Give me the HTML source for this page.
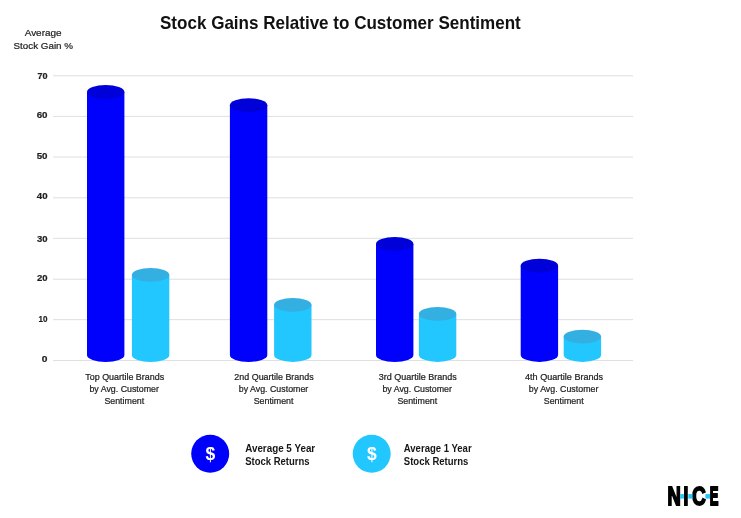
<!DOCTYPE html>
<html lang="en"><head><meta charset="utf-8"><title>Stock Gains Relative to Customer Sentiment</title>
<style>
html,body{margin:0;padding:0;background:#fff;}
body{width:741px;height:518px;overflow:hidden;font-family:"Liberation Sans",sans-serif;}
svg{display:block;}
text{font-family:"Liberation Sans",sans-serif;fill:#1e1e1e;}
.b{font-weight:bold;}
.c{text-anchor:middle;}
.m{stroke:#1e1e1e;stroke-width:0.22px;}
.mb{stroke:#1e1e1e;stroke-width:0.2px;}
</style></head><body>
<svg width="741" height="518" viewBox="0 0 741 518">
<rect width="741" height="518" fill="#fff"/>
<text class="b" x="160" y="28.7" font-size="18.2" style="fill:#111" textLength="360.8" lengthAdjust="spacingAndGlyphs">Stock Gains Relative to Customer Sentiment</text>
<text x="24.7" y="35.9" font-size="9.7" class="m" textLength="36.9" lengthAdjust="spacingAndGlyphs">Average</text>
<text x="13.5" y="48.7" font-size="9.7" class="m" textLength="59.5" lengthAdjust="spacingAndGlyphs">Stock Gain %</text>
<rect x="53" y="75.27" width="580" height="1" fill="#dfdfdf"/>
<text class="b mb" x="37.45" y="78.90" font-size="8.8" textLength="10.1" lengthAdjust="spacingAndGlyphs">70</text>
<rect x="53" y="115.90" width="580" height="1" fill="#dfdfdf"/>
<text class="b mb" x="36.65" y="118.00" font-size="8.8" textLength="10.9" lengthAdjust="spacingAndGlyphs">60</text>
<rect x="53" y="156.50" width="580" height="1" fill="#dfdfdf"/>
<text class="b mb" x="36.65" y="159.00" font-size="8.8" textLength="10.9" lengthAdjust="spacingAndGlyphs">50</text>
<rect x="53" y="197.30" width="580" height="1" fill="#dfdfdf"/>
<text class="b mb" x="36.75" y="198.90" font-size="8.8" textLength="10.8" lengthAdjust="spacingAndGlyphs">40</text>
<rect x="53" y="237.80" width="580" height="1" fill="#dfdfdf"/>
<text class="b mb" x="36.95" y="242.00" font-size="8.8" textLength="10.6" lengthAdjust="spacingAndGlyphs">30</text>
<rect x="53" y="278.70" width="580" height="1" fill="#dfdfdf"/>
<text class="b mb" x="36.95" y="280.90" font-size="8.8" textLength="10.6" lengthAdjust="spacingAndGlyphs">20</text>
<rect x="53" y="319.15" width="580" height="1" fill="#dfdfdf"/>
<text class="b mb" x="38.55" y="321.90" font-size="8.8" textLength="9.0" lengthAdjust="spacingAndGlyphs">10</text>
<rect x="53" y="360.00" width="580" height="1" fill="#dfdfdf"/>
<text class="b mb" x="41.85" y="361.90" font-size="8.8" textLength="5.7" lengthAdjust="spacingAndGlyphs">0</text>
<path d="M87.00 92.00V355.0A18.7 6.9 0 0 0 124.40 355.0V92.00Z" fill="#0000fd"/><ellipse cx="105.70" cy="92.00" rx="18.7" ry="6.9" fill="#0000d8"/>
<path d="M131.90 274.90V355.0A18.7 6.9 0 0 0 169.30 355.0V274.90Z" fill="#22c7ff"/><ellipse cx="150.60" cy="274.90" rx="18.7" ry="6.9" fill="#34afe2"/>
<path d="M229.90 105.20V355.0A18.7 6.9 0 0 0 267.30 355.0V105.20Z" fill="#0000fd"/><ellipse cx="248.60" cy="105.20" rx="18.7" ry="6.9" fill="#0000d8"/>
<path d="M274.10 304.80V355.0A18.7 6.9 0 0 0 311.50 355.0V304.80Z" fill="#22c7ff"/><ellipse cx="292.80" cy="304.80" rx="18.7" ry="6.9" fill="#34afe2"/>
<path d="M376.00 243.90V355.0A18.7 6.9 0 0 0 413.40 355.0V243.90Z" fill="#0000fd"/><ellipse cx="394.70" cy="243.90" rx="18.7" ry="6.9" fill="#0000d8"/>
<path d="M418.90 313.90V355.0A18.7 6.9 0 0 0 456.30 355.0V313.90Z" fill="#22c7ff"/><ellipse cx="437.60" cy="313.90" rx="18.7" ry="6.9" fill="#34afe2"/>
<path d="M520.70 265.70V355.0A18.7 6.9 0 0 0 558.10 355.0V265.70Z" fill="#0000fd"/><ellipse cx="539.40" cy="265.70" rx="18.7" ry="6.9" fill="#0000d8"/>
<path d="M563.70 336.60V355.0A18.7 6.9 0 0 0 601.10 355.0V336.60Z" fill="#22c7ff"/><ellipse cx="582.40" cy="336.60" rx="18.7" ry="6.9" fill="#34afe2"/>
<text x="85.30" y="379.8" font-size="8.6" class="m" textLength="78.8" lengthAdjust="spacingAndGlyphs">Top Quartile Brands</text><text x="89.45" y="391.9" font-size="8.6" class="m" textLength="69.5" lengthAdjust="spacingAndGlyphs">by Avg. Customer</text><text x="104.40" y="403.9" font-size="8.6" class="m" textLength="39.8" lengthAdjust="spacingAndGlyphs">Sentiment</text>
<text x="234.35" y="379.8" font-size="8.6" class="m" textLength="79.3" lengthAdjust="spacingAndGlyphs">2nd Quartile Brands</text><text x="238.75" y="391.9" font-size="8.6" class="m" textLength="69.5" lengthAdjust="spacingAndGlyphs">by Avg. Customer</text><text x="253.70" y="403.9" font-size="8.6" class="m" textLength="39.8" lengthAdjust="spacingAndGlyphs">Sentiment</text>
<text x="378.70" y="379.8" font-size="8.6" class="m" textLength="78.0" lengthAdjust="spacingAndGlyphs">3rd Quartile Brands</text><text x="382.45" y="391.9" font-size="8.6" class="m" textLength="69.5" lengthAdjust="spacingAndGlyphs">by Avg. Customer</text><text x="397.40" y="403.9" font-size="8.6" class="m" textLength="39.8" lengthAdjust="spacingAndGlyphs">Sentiment</text>
<text x="525.05" y="379.8" font-size="8.6" class="m" textLength="78.1" lengthAdjust="spacingAndGlyphs">4th Quartile Brands</text><text x="528.85" y="391.9" font-size="8.6" class="m" textLength="69.5" lengthAdjust="spacingAndGlyphs">by Avg. Customer</text><text x="543.80" y="403.9" font-size="8.6" class="m" textLength="39.8" lengthAdjust="spacingAndGlyphs">Sentiment</text>
<circle cx="210.2" cy="453.7" r="19" fill="#0000fd"/><text class="b c" x="210.3" y="459.6" font-size="17.5" style="fill:#fff">$</text>
<text class="b" x="245.2" y="452.3" font-size="10" style="fill:#161616" textLength="70" lengthAdjust="spacingAndGlyphs">Average 5 Year</text><text class="b" x="245.2" y="464.9" font-size="10" style="fill:#161616" textLength="64.4" lengthAdjust="spacingAndGlyphs">Stock Returns</text>
<circle cx="371.7" cy="453.8" r="19" fill="#22c7ff"/><text class="b c" x="371.9" y="459.6" font-size="17.5" style="fill:#fff">$</text>
<text class="b" x="403.8" y="452.3" font-size="10" style="fill:#161616" textLength="67.8" lengthAdjust="spacingAndGlyphs">Average 1 Year</text><text class="b" x="403.8" y="464.9" font-size="10" style="fill:#161616" textLength="64.6" lengthAdjust="spacingAndGlyphs">Stock Returns</text>
<g class="b" font-size="25.87" style="stroke:#000;stroke-width:1.6;stroke-linejoin:miter"><title>NICE</title><text transform="translate(667.5 505.1) scale(0.71 1)" style="fill:#000;vector-effect:non-scaling-stroke" vector-effect="non-scaling-stroke">N</text><text transform="translate(683.44 505.1) scale(0.671 1)" style="fill:#000;vector-effect:non-scaling-stroke" vector-effect="non-scaling-stroke">I</text><text transform="translate(691.95 505.1) scale(0.735 1)" style="fill:#000;vector-effect:non-scaling-stroke" vector-effect="non-scaling-stroke">C</text><text transform="translate(709.7 505.1) scale(0.505 1)" style="fill:#000;vector-effect:non-scaling-stroke" vector-effect="non-scaling-stroke">E</text></g>
<rect x="680.2" y="494.1" width="3.7" height="4.5" fill="#26c5ff"/><rect x="688.3" y="494.1" width="4.2" height="4.5" fill="#26c5ff"/><rect x="705.4" y="494.1" width="4.6" height="4.5" fill="#26c5ff"/>
</svg>
</body></html>
